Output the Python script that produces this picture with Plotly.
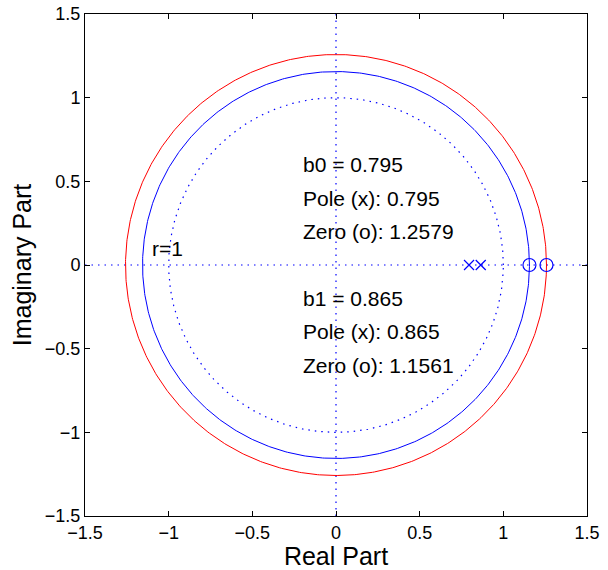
import numpy as np
import plotly.graph_objects as go

# Data
poles = [0.795, 0.865]
zeros = [1.2579, 1.1561]
zero_colors = ["red", "blue"]
tick_vals = [-1.5, -1, -0.5, 0, 0.5, 1, 1.5]
tick_text = ["\u22121.5", "\u22121", "\u22120.5", "0", "0.5", "1", "1.5"]
labels_top = ["b0 = 0.795", "Pole (x): 0.795", "Zero (o): 1.2579"]
labels_bot = ["b1 = 0.865", "Pole (x): 0.865", "Zero (o): 1.1561"]

theta = np.linspace(0, 2 * np.pi, 721)
FONT = "Liberation Sans, Arial, sans-serif"
DOT = "1.5px,5px"

fig = go.Figure()

# dotted axes and unit circle
fig.add_trace(go.Scatter(x=[-1.5, 1.5], y=[0, 0], mode="lines",
                         line=dict(color="blue", width=1.2, dash=DOT), hoverinfo="skip"))
fig.add_trace(go.Scatter(x=[0, 0], y=[-1.5, 1.5], mode="lines",
                         line=dict(color="blue", width=1.2, dash=DOT), hoverinfo="skip"))
fig.add_trace(go.Scatter(x=np.cos(theta), y=np.sin(theta), mode="lines",
                         line=dict(color="blue", width=1.2, dash=DOT), hoverinfo="skip"))

# circles through the zeros
for r, c in zip(zeros, zero_colors):
    fig.add_trace(go.Scatter(x=r * np.cos(theta), y=r * np.sin(theta), mode="lines",
                             line=dict(color=c, width=1)))

# poles and zeros
fig.add_trace(go.Scatter(x=poles, y=[0] * len(poles), mode="markers",
                         marker=dict(symbol="x-thin-open", size=10,
                                     line=dict(color="blue", width=1.2), color="blue")))
fig.add_trace(go.Scatter(x=zeros, y=[0] * len(zeros), mode="markers",
                         marker=dict(symbol="circle-open", size=13,
                                     line=dict(color="blue", width=1.2), color="blue")))

ann = []
for i, t in enumerate(labels_top):
    ann.append(dict(x=-0.2, y=0.6 - 0.2 * i, text=t))
for i, t in enumerate(labels_bot):
    ann.append(dict(x=-0.2, y=-0.2 - 0.2 * i, text=t))
ann.append(dict(x=-1.1, y=0.1, text="r=1"))
for a in ann:
    a.update(xref="x", yref="y", xanchor="left", yanchor="middle", showarrow=False,
             xshift=-2, font=dict(family=FONT, size=21, color="black"))

axis_common = dict(range=[-1.5, 1.5], tickvals=tick_vals, ticktext=tick_text,
                   ticks="inside", ticklen=5, tickwidth=1, tickcolor="black",
                   showline=True, linecolor="black", linewidth=1, mirror="allticks",
                   showgrid=False, zeroline=False, automargin=False,
                   tickfont=dict(family=FONT, size=18, color="black"))

fig.update_layout(
    width=608, height=570,
    margin=dict(l=85, r=21, t=14, b=54),
    paper_bgcolor="white", plot_bgcolor="white",
    showlegend=False,
    annotations=ann,
    xaxis=dict(title=dict(text="Real Part", font=dict(family=FONT, size=25, color="black"), standoff=4),
               **axis_common),
    yaxis=dict(title=dict(text="Imaginary Part", font=dict(family=FONT, size=25, color="black"), standoff=6),
               **axis_common),
)

fig.write_html("out.html", config={"displayModeBar": False},
               post_script="document.body.style.margin='0';")
